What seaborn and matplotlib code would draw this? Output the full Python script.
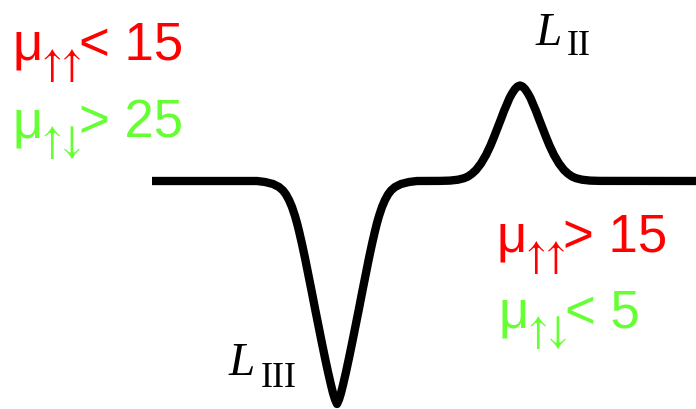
"""
Spectrum sketch: L3 dip and L2 peak with spin-mobility labels
"""

import matplotlib
matplotlib.use("Agg")
import matplotlib.pyplot as plt
from matplotlib.transforms import Affine2D
import seaborn as sns

# curve (x position, signal relative to the baseline)
energy = [152, 257, 265, 273, 279, 283, 286, 289, 292, 295, 297, 299, 302,
          305, 308, 312, 315, 319, 322, 325, 328, 331, 333, 335, 337,
          339, 341, 343, 346, 349, 352, 355, 359, 362, 366, 369, 372, 375,
          377, 379, 382, 385, 388, 391, 395, 401, 409, 417,
          440, 450, 458, 464, 468, 472, 476, 481, 486, 490.5, 494, 497.7, 501,
          504, 507, 509.3, 512, 515, 517.5, 520,
          522.5, 525, 528, 530.7, 533, 536, 539, 542.3, 546, 549.5, 554, 559,
          564, 568, 572, 576, 582, 590, 600, 696]
signal = [0, 0, -1, -3, -6, -9.5, -13.5, -19, -26, -35, -42, -50, -63,
          -77, -92, -112, -127.5, -147.5, -162.5, -177, -191, -204, -212, -218.5, -223,
          -218.5, -212, -204, -191, -177, -162.5, -147.5, -127.5, -112, -92, -77, -63, -50,
          -42, -35, -26, -19, -13.5, -9.5, -6, -3, -1, 0,
          0.1, 0.4, 1.3, 2.8, 4.5, 7.3, 11, 17.5, 26, 35.5, 44, 53.5, 62,
          70, 77, 82.5, 87.5, 92, 94.5, 95.5,
          94.5, 92, 87.5, 82.5, 77, 70, 62, 53.5, 44, 35.5, 26, 17.5,
          11, 7.3, 4.5, 2.8, 1.3, 0.4, 0.1, 0]

edge_labels = ["L", "III", "L", "II"]
left_text = [("μ", "↑↑", "< 15", "#ff0000"), ("μ", "↑↓", "> 25", "#66ff33")]
right_text = [("μ", "↑↑", "> 15", "#ff0000"), ("μ", "↑↓", "< 5", "#66ff33")]

W, H = 696, 409

sns.set_style("white")
fig = plt.figure(figsize=(W / 100, H / 100), dpi=100)
ax = fig.add_axes([0, 0, 1, 1])
sns.lineplot(x=energy, y=signal, ax=ax, color="black", linewidth=6.0,
             sort=False, solid_capstyle="butt", solid_joinstyle="round")
ax.set_xlim(0, W)
ax.set_ylim(-228, 181)
ax.axis("off")

# pixel coordinates measured from the top-left corner
px = Affine2D().scale(1, -1).translate(0, H)

sans = "Liberation Sans"
serif = "Liberation Serif"


def mu_label(x, y, parts):
    mu, sub, rest, color = parts
    ax.text(x, y, mu, transform=px, fontsize=38, family=sans, color=color)
    ax.text(x + 30, y + 16, sub, transform=px, fontsize=29,
            family=["STIXGeneral", "DejaVu Sans"], color=color)
    ax.text(x + 67, y, rest, transform=px, fontsize=38, family=sans, color=color)


mu_label(12, 60, left_text[0])
mu_label(12, 137, left_text[1])
mu_label(496, 252, right_text[0])
mu_label(498, 327, right_text[1])

ax.text(229, 375, edge_labels[0], transform=px, fontsize=34, family=serif,
        style="italic", color="black")
ax.text(261, 387, edge_labels[1], transform=px, fontsize=26, family=serif,
        color="black")
ax.text(536, 45, edge_labels[2], transform=px, fontsize=34, family=serif,
        style="italic", color="black")
ax.text(567, 55, edge_labels[3], transform=px, fontsize=26, family=serif,
        color="black")

fig.savefig("out.png", dpi=100)
plt.close(fig)
